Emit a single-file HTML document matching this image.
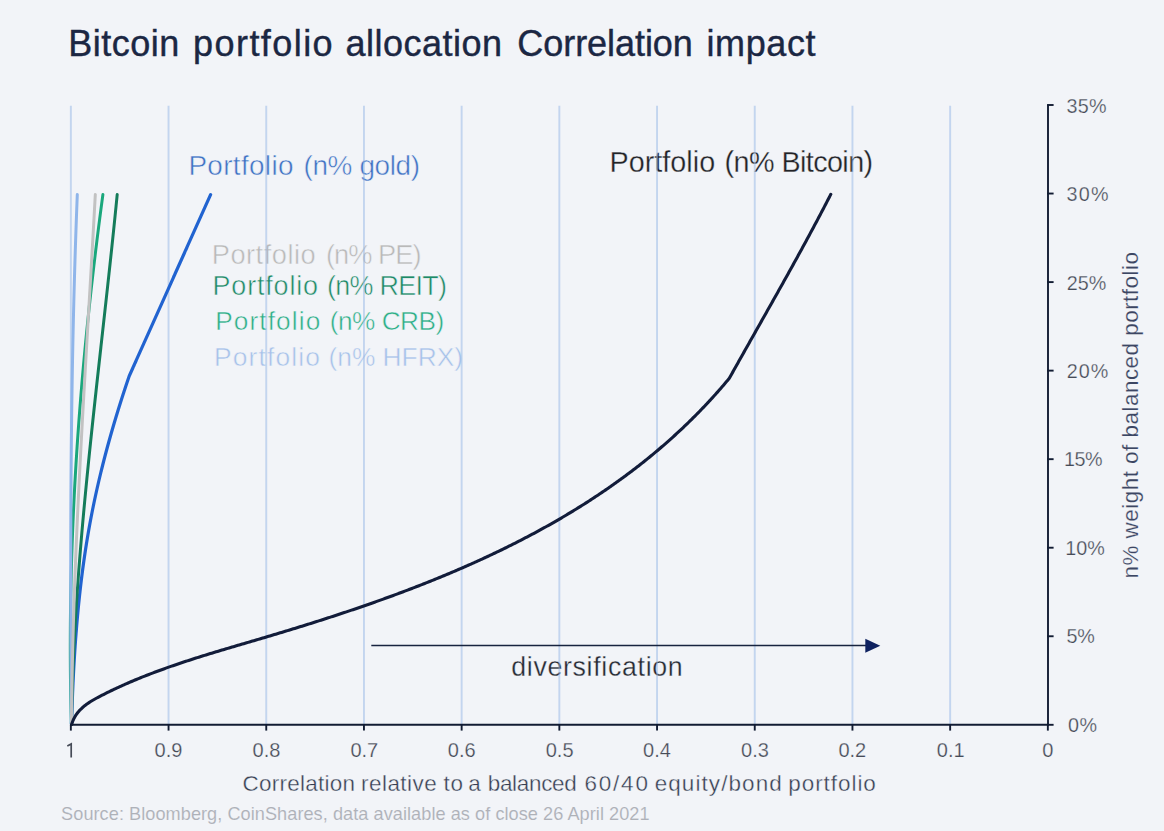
<!DOCTYPE html><html><head><meta charset="utf-8"><style>html,body{margin:0;padding:0;background:#f2f4f8;}svg{display:block;}text{font-family:"Liberation Sans",sans-serif;}</style></head><body>
<svg width="1164" height="831" viewBox="0 0 1164 831">
<rect width="1164" height="831" fill="#f2f4f8"/>
<text x="511.20" y="676.40" font-size="26.76" fill="#262a33" textLength="171.52" lengthAdjust="spacing" stroke="#f2f4f8" stroke-width="0.3">diversification</text>
<text x="61.10" y="820.40" font-size="18.14" fill="#aeb1b8" textLength="588.50" lengthAdjust="spacing" stroke="#f2f4f8" stroke-width="0.1">Source: Bloomberg, CoinShares, data available as of close 26 April 2021</text>
<text x="1068.00" y="731.80" font-size="19.76" fill="#464b57" textLength="29.00" lengthAdjust="spacing" stroke="#f2f4f8" stroke-width="0.25">0%</text>
<text x="1066.40" y="643.34" font-size="19.76" fill="#464b57" textLength="28.53" lengthAdjust="spacing" stroke="#f2f4f8" stroke-width="0.25">5%</text>
<text x="1065.30" y="554.88" font-size="19.76" fill="#464b57" textLength="39.54" lengthAdjust="spacing" stroke="#f2f4f8" stroke-width="0.25">10%</text>
<text x="1064.00" y="466.42" font-size="19.76" fill="#464b57" textLength="38.60" lengthAdjust="spacing" stroke="#f2f4f8" stroke-width="0.25">15%</text>
<text x="1066.80" y="377.96" font-size="19.76" fill="#464b57" textLength="41.51" lengthAdjust="spacing" stroke="#f2f4f8" stroke-width="0.25">20%</text>
<text x="1066.80" y="289.50" font-size="19.76" fill="#464b57" textLength="39.52" lengthAdjust="spacing" stroke="#f2f4f8" stroke-width="0.25">25%</text>
<text x="1066.50" y="201.04" font-size="19.76" fill="#464b57" textLength="42.05" lengthAdjust="spacing" stroke="#f2f4f8" stroke-width="0.25">30%</text>
<text x="1066.40" y="112.58" font-size="19.76" fill="#464b57" textLength="40.04" lengthAdjust="spacing" stroke="#f2f4f8" stroke-width="0.25">35%</text>
<text x="154.60" y="757.40" font-size="20.05" fill="#464b57" stroke="#f2f4f8" stroke-width="0.25">0.9</text>
<text x="252.50" y="757.40" font-size="20.05" fill="#464b57" stroke="#f2f4f8" stroke-width="0.25">0.8</text>
<text x="350.40" y="757.40" font-size="20.05" fill="#464b57" stroke="#f2f4f8" stroke-width="0.25">0.7</text>
<text x="447.80" y="757.40" font-size="20.05" fill="#464b57" stroke="#f2f4f8" stroke-width="0.25">0.6</text>
<text x="545.70" y="757.40" font-size="20.05" fill="#464b57" stroke="#f2f4f8" stroke-width="0.25">0.5</text>
<text x="643.10" y="757.40" font-size="20.05" fill="#464b57" stroke="#f2f4f8" stroke-width="0.25">0.4</text>
<text x="741.00" y="757.40" font-size="20.05" fill="#464b57" stroke="#f2f4f8" stroke-width="0.25">0.3</text>
<text x="838.40" y="757.40" font-size="20.05" fill="#464b57" stroke="#f2f4f8" stroke-width="0.25">0.2</text>
<text x="936.80" y="757.40" font-size="20.05" fill="#464b57" stroke="#f2f4f8" stroke-width="0.25">0.1</text>
<text x="1042.20" y="757.40" font-size="20.05" fill="#464b57" stroke="#f2f4f8" stroke-width="0.25">0</text>
<text x="1137.00" y="577.80" font-size="22.39" fill="#3c4663" textLength="326.50" lengthAdjust="spacing" stroke="#f2f4f8" stroke-width="0.2" transform="rotate(-90 1137.7 577.8)">n% weight of balanced portfolio</text>
<text x="68.30" y="56.40" font-size="36.00" fill="#1b2743" textLength="111.10" lengthAdjust="spacing" stroke="#1b2743" stroke-width="0.4">Bitcoin</text>
<text x="193.10" y="56.40" font-size="36.00" fill="#1b2743" textLength="139.54" lengthAdjust="spacing" stroke="#1b2743" stroke-width="0.4">portfolio</text>
<text x="345.60" y="56.40" font-size="36.00" fill="#1b2743" textLength="156.52" lengthAdjust="spacing" stroke="#1b2743" stroke-width="0.4">allocation</text>
<text x="517.30" y="56.40" font-size="36.00" fill="#1b2743" textLength="175.52" lengthAdjust="spacing" stroke="#1b2743" stroke-width="0.4">Correlation</text>
<text x="706.50" y="56.40" font-size="36.00" fill="#1b2743" textLength="109.02" lengthAdjust="spacing" stroke="#1b2743" stroke-width="0.4">impact</text>
<text x="242.50" y="791.10" font-size="22.47" fill="#363e52" textLength="112.52" lengthAdjust="spacing" stroke="#f2f4f8" stroke-width="0.35">Correlation</text>
<text x="361.10" y="791.10" font-size="22.47" fill="#363e52" textLength="75.53" lengthAdjust="spacing" stroke="#f2f4f8" stroke-width="0.35">relative</text>
<text x="443.40" y="791.10" font-size="22.47" fill="#363e52" textLength="19.52" lengthAdjust="spacing" stroke="#f2f4f8" stroke-width="0.35">to</text>
<text x="468.20" y="791.10" font-size="22.47" fill="#363e52" stroke="#f2f4f8" stroke-width="0.35">a</text>
<text x="487.70" y="791.10" font-size="22.47" fill="#363e52" textLength="89.03" lengthAdjust="spacing" stroke="#f2f4f8" stroke-width="0.35">balanced</text>
<text x="584.40" y="791.10" font-size="22.47" fill="#363e52" textLength="63.51" lengthAdjust="spacing" stroke="#f2f4f8" stroke-width="0.35">60/40</text>
<text x="654.70" y="791.10" font-size="22.47" fill="#363e52" textLength="127.01" lengthAdjust="spacing" stroke="#f2f4f8" stroke-width="0.35">equity/bond</text>
<text x="788.30" y="791.10" font-size="22.47" fill="#363e52" textLength="87.52" lengthAdjust="spacing" stroke="#f2f4f8" stroke-width="0.35">portfolio</text>
<text x="188.40" y="175.40" font-size="27.91" fill="#3f72c4" textLength="105.04" lengthAdjust="spacing" stroke="#f2f4f8" stroke-width="0.5">Portfolio</text>
<text x="303.50" y="175.40" font-size="27.91" fill="#3f72c4" textLength="116.53" lengthAdjust="spacing" stroke="#f2f4f8" stroke-width="0.5">(n% gold)</text>
<text x="609.60" y="172.00" font-size="28.75" fill="#222327" textLength="105.55" lengthAdjust="spacing" stroke="#f2f4f8" stroke-width="0.3">Portfolio</text>
<text x="724.60" y="172.00" font-size="28.75" fill="#222327" textLength="148.54" lengthAdjust="spacing" stroke="#f2f4f8" stroke-width="0.3">(n% Bitcoin)</text>
<text x="211.70" y="263.60" font-size="27.21" fill="#b9b9b9" textLength="104.03" lengthAdjust="spacing" stroke="#f2f4f8" stroke-width="0.5">Portfolio</text>
<text x="325.90" y="263.60" font-size="27.21" fill="#b9b9b9" textLength="95.54" lengthAdjust="spacing" stroke="#f2f4f8" stroke-width="0.5">(n% PE)</text>
<text x="212.50" y="295.20" font-size="26.93" fill="#1f8a67" textLength="105.53" lengthAdjust="spacing" stroke="#f2f4f8" stroke-width="0.5">Portfolio</text>
<text x="327.00" y="295.20" font-size="26.93" fill="#1f8a67" textLength="120.03" lengthAdjust="spacing" stroke="#f2f4f8" stroke-width="0.5">(n% REIT)</text>
<text x="215.20" y="330.10" font-size="26.23" fill="#2cae86" textLength="105.03" lengthAdjust="spacing" stroke="#f2f4f8" stroke-width="0.5">Portfolio</text>
<text x="329.70" y="330.10" font-size="26.23" fill="#2cae86" textLength="114.55" lengthAdjust="spacing" stroke="#f2f4f8" stroke-width="0.5">(n% CRB)</text>
<text x="213.90" y="366.00" font-size="26.37" fill="#a7c2ea" textLength="106.04" lengthAdjust="spacing" stroke="#f2f4f8" stroke-width="0.5">Portfolio</text>
<text x="328.50" y="366.00" font-size="26.37" fill="#a7c2ea" textLength="134.54" lengthAdjust="spacing" stroke="#f2f4f8" stroke-width="0.5">(n% HFRX)</text>
<line x1="70.85" y1="105.8" x2="70.85" y2="724" stroke="#94b6e6" stroke-opacity="0.5" stroke-width="1.9"/>
<line x1="168.55" y1="105.8" x2="168.55" y2="724" stroke="#94b6e6" stroke-opacity="0.5" stroke-width="1.9"/>
<line x1="266.25" y1="105.8" x2="266.25" y2="724" stroke="#94b6e6" stroke-opacity="0.5" stroke-width="1.9"/>
<line x1="363.95" y1="105.8" x2="363.95" y2="724" stroke="#94b6e6" stroke-opacity="0.5" stroke-width="1.9"/>
<line x1="461.65" y1="105.8" x2="461.65" y2="724" stroke="#94b6e6" stroke-opacity="0.5" stroke-width="1.9"/>
<line x1="559.35" y1="105.8" x2="559.35" y2="724" stroke="#94b6e6" stroke-opacity="0.5" stroke-width="1.9"/>
<line x1="657.05" y1="105.8" x2="657.05" y2="724" stroke="#94b6e6" stroke-opacity="0.5" stroke-width="1.9"/>
<line x1="754.75" y1="105.8" x2="754.75" y2="724" stroke="#94b6e6" stroke-opacity="0.5" stroke-width="1.9"/>
<line x1="852.45" y1="105.8" x2="852.45" y2="724" stroke="#94b6e6" stroke-opacity="0.5" stroke-width="1.9"/>
<line x1="950.15" y1="105.8" x2="950.15" y2="724" stroke="#94b6e6" stroke-opacity="0.5" stroke-width="1.9"/>
<path d="M71.50,724.00 L71.53,723.00 L71.56,722.00 L71.59,721.00 L71.62,720.00 L71.65,719.00 L71.68,718.00 L71.71,717.00 L71.74,716.00 L71.78,715.00 L71.81,714.00 L71.84,713.00 L71.87,712.00 L71.91,711.00 L71.94,710.00 L71.98,709.00 L72.01,708.00 L72.05,707.00 L72.08,706.00 L72.12,705.00 L72.15,704.00 L72.19,703.00 L72.23,702.00 L72.27,701.00 L72.30,700.00 L72.34,699.00 L72.38,698.00 L72.42,697.00 L72.46,696.00 L72.50,695.00 L72.54,694.00 L72.58,693.00 L72.62,692.00 L72.67,691.00 L72.71,690.00 L72.75,689.00 L72.80,688.00 L72.84,687.00 L72.89,686.00 L72.93,685.00 L72.98,684.00 L73.02,683.00 L73.07,682.00 L73.12,681.00 L73.16,680.00 L73.21,679.00 L73.26,678.00 L73.31,677.00 L73.36,676.00 L73.41,675.00 L73.46,674.00 L73.51,673.00 L73.57,672.00 L73.62,671.00 L73.67,670.00 L73.73,669.00 L73.78,668.00 L73.84,667.00 L73.89,666.00 L73.95,665.00 L74.00,664.00 L74.06,663.00 L74.12,662.00 L74.18,661.00 L74.24,660.00 L74.30,659.00 L74.36,658.00 L74.42,657.00 L74.48,656.00 L74.54,655.00 L74.61,654.00 L74.67,653.00 L74.73,652.00 L74.80,651.00 L74.86,650.00 L74.93,649.00 L75.00,648.00 L75.06,647.00 L75.13,646.00 L75.20,645.00 L75.27,644.00 L75.34,643.00 L75.41,642.00 L75.48,641.00 L75.56,640.00 L75.63,639.00 L75.70,638.00 L75.78,637.00 L75.85,636.00 L75.93,635.00 L76.01,634.00 L76.08,633.00 L76.16,632.00 L76.24,631.00 L76.32,630.00 L76.40,629.00 L76.48,628.00 L76.56,627.00 L76.64,626.00 L76.73,625.00 L76.81,624.00 L76.90,623.00 L76.98,622.00 L77.07,621.00 L77.16,620.00 L77.24,619.00 L77.33,618.00 L77.42,617.00 L77.51,616.00 L77.60,615.00 L77.70,614.00 L77.79,613.00 L77.88,612.00 L77.98,611.00 L78.07,610.00 L78.17,609.00 L78.26,608.00 L78.36,607.00 L78.46,606.00 L78.56,605.00 L78.66,604.00 L78.76,603.00 L78.86,602.00 L78.97,601.00 L79.07,600.00 L79.18,599.00 L79.28,598.00 L79.39,597.00 L79.49,596.00 L79.60,595.00 L79.71,594.00 L79.82,593.00 L79.93,592.00 L80.04,591.00 L80.16,590.00 L80.27,589.00 L80.38,588.00 L80.50,587.00 L80.62,586.00 L80.73,585.00 L80.85,584.00 L80.97,583.00 L81.09,582.00 L81.21,581.00 L81.33,580.00 L81.46,579.00 L81.58,578.00 L81.71,577.00 L81.83,576.00 L81.96,575.00 L82.09,574.00 L82.22,573.00 L82.35,572.00 L82.48,571.00 L82.61,570.00 L82.74,569.00 L82.88,568.00 L83.01,567.00 L83.15,566.00 L83.28,565.00 L83.42,564.00 L83.56,563.00 L83.70,562.00 L83.84,561.00 L83.98,560.00 L84.13,559.00 L84.27,558.00 L84.42,557.00 L84.56,556.00 L84.71,555.00 L84.86,554.00 L85.01,553.00 L85.16,552.00 L85.31,551.00 L85.46,550.00 L85.62,549.00 L85.77,548.00 L85.93,547.00 L86.09,546.00 L86.24,545.00 L86.40,544.00 L86.56,543.00 L86.73,542.00 L86.89,541.00 L87.05,540.00 L87.22,539.00 L87.38,538.00 L87.55,537.00 L87.72,536.00 L87.89,535.00 L88.06,534.00 L88.23,533.00 L88.40,532.00 L88.58,531.00 L88.75,530.00 L88.93,529.00 L89.11,528.00 L89.29,527.00 L89.47,526.00 L89.65,525.00 L89.83,524.00 L90.01,523.00 L90.20,522.00 L90.39,521.00 L90.57,520.00 L90.76,519.00 L90.95,518.00 L91.14,517.00 L91.34,516.00 L91.53,515.00 L91.72,514.00 L91.92,513.00 L92.12,512.00 L92.31,511.00 L92.51,510.00 L92.71,509.00 L92.92,508.00 L93.12,507.00 L93.32,506.00 L93.53,505.00 L93.74,504.00 L93.94,503.00 L94.15,502.00 L94.36,501.00 L94.57,500.00 L94.79,499.00 L95.00,498.00 L95.22,497.00 L95.43,496.00 L95.65,495.00 L95.87,494.00 L96.09,493.00 L96.31,492.00 L96.53,491.00 L96.75,490.00 L96.98,489.00 L97.20,488.00 L97.43,487.00 L97.66,486.00 L97.89,485.00 L98.12,484.00 L98.35,483.00 L98.58,482.00 L98.81,481.00 L99.05,480.00 L99.28,479.00 L99.52,478.00 L99.76,477.00 L100.00,476.00 L100.24,475.00 L100.48,474.00 L100.72,473.00 L100.96,472.00 L101.21,471.00 L101.45,470.00 L101.70,469.00 L101.95,468.00 L102.20,467.00 L102.45,466.00 L102.70,465.00 L102.95,464.00 L103.21,463.00 L103.46,462.00 L103.72,461.00 L103.97,460.00 L104.23,459.00 L104.49,458.00 L104.75,457.00 L105.01,456.00 L105.27,455.00 L105.54,454.00 L105.80,453.00 L106.07,452.00 L106.33,451.00 L106.60,450.00 L106.87,449.00 L107.14,448.00 L107.41,447.00 L107.68,446.00 L107.95,445.00 L108.23,444.00 L108.50,443.00 L108.78,442.00 L109.06,441.00 L109.34,440.00 L109.61,439.00 L109.90,438.00 L110.18,437.00 L110.46,436.00 L110.74,435.00 L111.03,434.00 L111.31,433.00 L111.60,432.00 L111.89,431.00 L112.18,430.00 L112.46,429.00 L112.76,428.00 L113.05,427.00 L113.34,426.00 L113.63,425.00 L113.93,424.00 L114.22,423.00 L114.52,422.00 L114.82,421.00 L115.12,420.00 L115.42,419.00 L115.72,418.00 L116.02,417.00 L116.32,416.00 L116.63,415.00 L116.93,414.00 L117.24,413.00 L117.54,412.00 L117.85,411.00 L118.16,410.00 L118.47,409.00 L118.78,408.00 L119.09,407.00 L119.40,406.00 L119.72,405.00 L120.03,404.00 L120.35,403.00 L120.67,402.00 L120.98,401.00 L121.30,400.00 L121.62,399.00 L121.94,398.00 L122.26,397.00 L122.58,396.00 L122.91,395.00 L123.23,394.00 L123.56,393.00 L123.88,392.00 L124.21,391.00 L124.54,390.00 L124.87,389.00 L125.20,388.00 L125.53,387.00 L125.86,386.00 L126.19,385.00 L126.53,384.00 L126.86,383.00 L127.20,382.00 L127.53,381.00 L127.87,380.00 L128.21,379.00 L128.55,378.00 L128.89,377.00 L129.23,376.00 L129.68,375.00 L130.13,374.00 L130.58,372.99 L131.03,371.99 L131.48,370.99 L131.93,369.99 L132.38,368.98 L132.83,367.98 L133.27,366.98 L133.72,365.98 L134.17,364.98 L134.62,363.97 L135.07,362.97 L135.52,361.97 L135.97,360.97 L136.42,359.96 L136.87,358.96 L137.32,357.96 L137.77,356.96 L138.22,355.96 L138.67,354.95 L139.12,353.95 L139.57,352.95 L140.02,351.95 L140.47,350.94 L140.92,349.94 L141.37,348.94 L141.82,347.94 L142.27,346.94 L142.72,345.93 L143.17,344.93 L143.61,343.93 L144.06,342.93 L144.51,341.92 L144.96,340.92 L145.41,339.92 L145.86,338.92 L146.31,337.92 L146.76,336.91 L147.21,335.91 L147.66,334.91 L148.11,333.91 L148.56,332.90 L149.01,331.90 L149.46,330.90 L149.91,329.90 L150.36,328.90 L150.81,327.89 L151.26,326.89 L151.71,325.89 L152.16,324.89 L152.61,323.89 L153.06,322.88 L153.51,321.88 L153.95,320.88 L154.40,319.88 L154.85,318.87 L155.30,317.87 L155.75,316.87 L156.20,315.87 L156.65,314.87 L157.10,313.86 L157.55,312.86 L158.00,311.86 L158.45,310.86 L158.90,309.85 L159.35,308.85 L159.80,307.85 L160.25,306.85 L160.70,305.85 L161.15,304.84 L161.60,303.84 L162.05,302.84 L162.50,301.84 L162.95,300.83 L163.40,299.83 L163.85,298.83 L164.29,297.83 L164.74,296.83 L165.19,295.82 L165.64,294.82 L166.09,293.82 L166.54,292.82 L166.99,291.81 L167.44,290.81 L167.89,289.81 L168.34,288.81 L168.79,287.81 L169.24,286.80 L169.69,285.80 L170.14,284.80 L170.59,283.80 L171.04,282.79 L171.49,281.79 L171.94,280.79 L172.39,279.79 L172.84,278.79 L173.29,277.78 L173.74,276.78 L174.19,275.78 L174.63,274.78 L175.08,273.77 L175.53,272.77 L175.98,271.77 L176.43,270.77 L176.88,269.77 L177.33,268.76 L177.78,267.76 L178.23,266.76 L178.68,265.76 L179.13,264.75 L179.58,263.75 L180.03,262.75 L180.48,261.75 L180.93,260.75 L181.38,259.74 L181.83,258.74 L182.28,257.74 L182.73,256.74 L183.18,255.73 L183.63,254.73 L184.08,253.73 L184.53,252.73 L184.97,251.73 L185.42,250.72 L185.87,249.72 L186.32,248.72 L186.77,247.72 L187.22,246.71 L187.67,245.71 L188.12,244.71 L188.57,243.71 L189.02,242.71 L189.47,241.70 L189.92,240.70 L190.37,239.70 L190.82,238.70 L191.27,237.70 L191.72,236.69 L192.17,235.69 L192.62,234.69 L193.07,233.69 L193.52,232.68 L193.97,231.68 L194.42,230.68 L194.87,229.68 L195.31,228.68 L195.76,227.67 L196.21,226.67 L196.66,225.67 L197.11,224.67 L197.56,223.66 L198.01,222.66 L198.46,221.66 L198.91,220.66 L199.36,219.66 L199.81,218.65 L200.26,217.65 L200.71,216.65 L201.16,215.65 L201.61,214.64 L202.06,213.64 L202.51,212.64 L202.96,211.64 L203.41,210.64 L203.86,209.63 L204.31,208.63 L204.76,207.63 L205.21,206.63 L205.65,205.62 L206.10,204.62 L206.55,203.62 L207.00,202.62 L207.45,201.62 L207.90,200.61 L208.35,199.61 L208.80,198.61 L209.25,197.61 L209.70,196.60 L210.15,195.60 L210.60,194.60" fill="none" stroke="#2163d0" stroke-width="3.2" stroke-linejoin="round" stroke-linecap="round"/>
<path d="M71.50,724.00 L71.51,723.00 L71.53,722.00 L71.54,721.00 L71.56,720.00 L71.58,719.00 L71.59,718.00 L71.61,716.99 L71.63,715.99 L71.64,714.99 L71.66,713.99 L71.68,712.99 L71.70,711.99 L71.72,710.99 L71.74,709.99 L71.76,708.99 L71.78,707.99 L71.81,706.99 L71.83,705.99 L71.85,704.99 L71.88,703.98 L71.90,702.98 L71.92,701.98 L71.95,700.98 L71.97,699.98 L72.00,698.98 L72.03,697.98 L72.05,696.98 L72.08,695.98 L72.11,694.98 L72.14,693.98 L72.16,692.98 L72.19,691.98 L72.22,690.98 L72.25,689.97 L72.28,688.97 L72.31,687.97 L72.35,686.97 L72.38,685.97 L72.41,684.97 L72.44,683.97 L72.48,682.97 L72.51,681.97 L72.54,680.97 L72.58,679.97 L72.61,678.97 L72.65,677.97 L72.68,676.96 L72.72,675.96 L72.76,674.96 L72.80,673.96 L72.83,672.96 L72.87,671.96 L72.91,670.96 L72.95,669.96 L72.99,668.96 L73.03,667.96 L73.07,666.96 L73.11,665.96 L73.15,664.96 L73.19,663.95 L73.23,662.95 L73.28,661.95 L73.32,660.95 L73.36,659.95 L73.41,658.95 L73.45,657.95 L73.49,656.95 L73.54,655.95 L73.58,654.95 L73.63,653.95 L73.68,652.95 L73.72,651.95 L73.77,650.94 L73.82,649.94 L73.87,648.94 L73.91,647.94 L73.96,646.94 L74.01,645.94 L74.06,644.94 L74.11,643.94 L74.16,642.94 L74.21,641.94 L74.26,640.94 L74.31,639.94 L74.37,638.94 L74.42,637.93 L74.47,636.93 L74.52,635.93 L74.58,634.93 L74.63,633.93 L74.69,632.93 L74.74,631.93 L74.80,630.93 L74.85,629.93 L74.91,628.93 L74.96,627.93 L75.02,626.93 L75.08,625.93 L75.13,624.93 L75.19,623.92 L75.25,622.92 L75.31,621.92 L75.37,620.92 L75.43,619.92 L75.49,618.92 L75.55,617.92 L75.61,616.92 L75.67,615.92 L75.73,614.92 L75.79,613.92 L75.85,612.92 L75.91,611.92 L75.98,610.91 L76.04,609.91 L76.10,608.91 L76.16,607.91 L76.23,606.91 L76.29,605.91 L76.36,604.91 L76.42,603.91 L76.49,602.91 L76.55,601.91 L76.62,600.91 L76.69,599.91 L76.75,598.91 L76.82,597.90 L76.89,596.90 L76.95,595.90 L77.02,594.90 L77.09,593.90 L77.16,592.90 L77.23,591.90 L77.30,590.90 L77.37,589.90 L77.44,588.90 L77.51,587.90 L77.58,586.90 L77.65,585.90 L77.72,584.89 L77.79,583.89 L77.86,582.89 L77.94,581.89 L78.01,580.89 L78.08,579.89 L78.15,578.89 L78.23,577.89 L78.30,576.89 L78.38,575.89 L78.45,574.89 L78.53,573.89 L78.60,572.89 L78.68,571.89 L78.75,570.88 L78.83,569.88 L78.90,568.88 L78.98,567.88 L79.06,566.88 L79.14,565.88 L79.21,564.88 L79.29,563.88 L79.37,562.88 L79.45,561.88 L79.53,560.88 L79.60,559.88 L79.68,558.88 L79.76,557.87 L79.84,556.87 L79.92,555.87 L80.00,554.87 L80.08,553.87 L80.17,552.87 L80.25,551.87 L80.33,550.87 L80.41,549.87 L80.49,548.87 L80.58,547.87 L80.66,546.87 L80.74,545.87 L80.82,544.86 L80.91,543.86 L80.99,542.86 L81.08,541.86 L81.16,540.86 L81.24,539.86 L81.33,538.86 L81.41,537.86 L81.50,536.86 L81.59,535.86 L81.67,534.86 L81.76,533.86 L81.84,532.86 L81.93,531.85 L82.02,530.85 L82.10,529.85 L82.19,528.85 L82.28,527.85 L82.37,526.85 L82.46,525.85 L82.54,524.85 L82.63,523.85 L82.72,522.85 L82.81,521.85 L82.90,520.85 L82.99,519.85 L83.08,518.84 L83.17,517.84 L83.26,516.84 L83.35,515.84 L83.44,514.84 L83.53,513.84 L83.62,512.84 L83.71,511.84 L83.81,510.84 L83.90,509.84 L83.99,508.84 L84.08,507.84 L84.18,506.84 L84.27,505.84 L84.36,504.83 L84.45,503.83 L84.55,502.83 L84.64,501.83 L84.74,500.83 L84.83,499.83 L84.92,498.83 L85.02,497.83 L85.11,496.83 L85.21,495.83 L85.30,494.83 L85.40,493.83 L85.49,492.83 L85.59,491.82 L85.69,490.82 L85.78,489.82 L85.88,488.82 L85.98,487.82 L86.07,486.82 L86.17,485.82 L86.27,484.82 L86.36,483.82 L86.46,482.82 L86.56,481.82 L86.66,480.82 L86.76,479.82 L86.85,478.81 L86.95,477.81 L87.05,476.81 L87.15,475.81 L87.25,474.81 L87.35,473.81 L87.45,472.81 L87.55,471.81 L87.65,470.81 L87.75,469.81 L87.85,468.81 L87.95,467.81 L88.05,466.81 L88.15,465.80 L88.25,464.80 L88.35,463.80 L88.45,462.80 L88.55,461.80 L88.65,460.80 L88.75,459.80 L88.86,458.80 L88.96,457.80 L89.06,456.80 L89.16,455.80 L89.26,454.80 L89.37,453.80 L89.47,452.80 L89.57,451.79 L89.68,450.79 L89.78,449.79 L89.88,448.79 L89.99,447.79 L90.09,446.79 L90.19,445.79 L90.30,444.79 L90.40,443.79 L90.50,442.79 L90.61,441.79 L90.71,440.79 L90.82,439.79 L90.92,438.78 L91.03,437.78 L91.13,436.78 L91.24,435.78 L91.34,434.78 L91.45,433.78 L91.55,432.78 L91.66,431.78 L91.76,430.78 L91.87,429.78 L91.98,428.78 L92.08,427.78 L92.19,426.78 L92.29,425.77 L92.40,424.77 L92.51,423.77 L92.61,422.77 L92.72,421.77 L92.83,420.77 L92.93,419.77 L93.04,418.77 L93.15,417.77 L93.26,416.77 L93.36,415.77 L93.47,414.77 L93.58,413.77 L93.69,412.76 L93.79,411.76 L93.90,410.76 L94.01,409.76 L94.12,408.76 L94.22,407.76 L94.33,406.76 L94.44,405.76 L94.55,404.76 L94.66,403.76 L94.77,402.76 L94.88,401.76 L94.98,400.76 L95.09,399.76 L95.20,398.75 L95.31,397.75 L95.42,396.75 L95.53,395.75 L95.64,394.75 L95.75,393.75 L95.86,392.75 L95.97,391.75 L96.08,390.75 L96.18,389.75 L96.29,388.75 L96.40,387.75 L96.51,386.75 L96.62,385.74 L96.73,384.74 L96.84,383.74 L96.95,382.74 L97.06,381.74 L97.17,380.74 L97.28,379.74 L97.39,378.74 L97.50,377.74 L97.61,376.74 L97.72,375.74 L97.84,374.74 L97.95,373.74 L98.06,372.73 L98.17,371.73 L98.28,370.73 L98.39,369.73 L98.50,368.73 L98.61,367.73 L98.72,366.73 L98.83,365.73 L98.94,364.73 L99.05,363.73 L99.16,362.73 L99.27,361.73 L99.38,360.73 L99.50,359.72 L99.61,358.72 L99.72,357.72 L99.83,356.72 L99.94,355.72 L100.05,354.72 L100.16,353.72 L100.27,352.72 L100.38,351.72 L100.50,350.72 L100.61,349.72 L100.72,348.72 L100.83,347.72 L100.94,346.71 L101.05,345.71 L101.16,344.71 L101.27,343.71 L101.39,342.71 L101.50,341.71 L101.61,340.71 L101.72,339.71 L101.83,338.71 L101.94,337.71 L102.05,336.71 L102.16,335.71 L102.28,334.71 L102.39,333.71 L102.50,332.70 L102.61,331.70 L102.72,330.70 L102.83,329.70 L102.94,328.70 L103.05,327.70 L103.17,326.70 L103.28,325.70 L103.39,324.70 L103.50,323.70 L103.61,322.70 L103.72,321.70 L103.83,320.70 L103.94,319.69 L104.05,318.69 L104.17,317.69 L104.28,316.69 L104.39,315.69 L104.50,314.69 L104.61,313.69 L104.72,312.69 L104.83,311.69 L104.94,310.69 L105.05,309.69 L105.16,308.69 L105.27,307.69 L105.38,306.68 L105.50,305.68 L105.61,304.68 L105.72,303.68 L105.83,302.68 L105.94,301.68 L106.05,300.68 L106.16,299.68 L106.27,298.68 L106.38,297.68 L106.49,296.68 L106.60,295.68 L106.71,294.68 L106.82,293.67 L106.93,292.67 L107.04,291.67 L107.15,290.67 L107.26,289.67 L107.37,288.67 L107.48,287.67 L107.59,286.67 L107.70,285.67 L107.81,284.67 L107.91,283.67 L108.02,282.67 L108.13,281.67 L108.24,280.67 L108.35,279.66 L108.46,278.66 L108.57,277.66 L108.68,276.66 L108.79,275.66 L108.90,274.66 L109.00,273.66 L109.11,272.66 L109.22,271.66 L109.33,270.66 L109.44,269.66 L109.54,268.66 L109.65,267.66 L109.76,266.65 L109.87,265.65 L109.98,264.65 L110.08,263.65 L110.19,262.65 L110.30,261.65 L110.41,260.65 L110.51,259.65 L110.62,258.65 L110.73,257.65 L110.83,256.65 L110.94,255.65 L111.05,254.65 L111.15,253.64 L111.26,252.64 L111.37,251.64 L111.47,250.64 L111.58,249.64 L111.69,248.64 L111.79,247.64 L111.90,246.64 L112.00,245.64 L112.11,244.64 L112.21,243.64 L112.32,242.64 L112.42,241.64 L112.53,240.63 L112.63,239.63 L112.74,238.63 L112.84,237.63 L112.95,236.63 L113.05,235.63 L113.16,234.63 L113.26,233.63 L113.37,232.63 L113.47,231.63 L113.57,230.63 L113.68,229.63 L113.78,228.63 L113.88,227.62 L113.99,226.62 L114.09,225.62 L114.19,224.62 L114.29,223.62 L114.40,222.62 L114.50,221.62 L114.60,220.62 L114.70,219.62 L114.81,218.62 L114.91,217.62 L115.01,216.62 L115.11,215.62 L115.21,214.62 L115.31,213.61 L115.41,212.61 L115.51,211.61 L115.61,210.61 L115.71,209.61 L115.82,208.61 L115.92,207.61 L116.02,206.61 L116.11,205.61 L116.21,204.61 L116.31,203.61 L116.41,202.61 L116.51,201.61 L116.61,200.60 L116.71,199.60 L116.81,198.60 L116.91,197.60 L117.00,196.60 L117.10,195.60 L117.20,194.60" fill="none" stroke="#147c5a" stroke-width="3" stroke-linejoin="round" stroke-linecap="round"/>
<path d="M71.40,724.00 L71.37,723.00 L71.34,722.00 L71.32,721.00 L71.29,720.00 L71.26,719.00 L71.24,718.00 L71.21,716.99 L71.18,715.99 L71.16,714.99 L71.13,713.99 L71.11,712.99 L71.08,711.99 L71.06,710.99 L71.04,709.99 L71.01,708.99 L70.99,707.99 L70.97,706.99 L70.95,705.99 L70.93,704.99 L70.90,703.98 L70.88,702.98 L70.86,701.98 L70.84,700.98 L70.82,699.98 L70.80,698.98 L70.78,697.98 L70.77,696.98 L70.75,695.98 L70.73,694.98 L70.71,693.98 L70.70,692.98 L70.68,691.98 L70.66,690.98 L70.65,689.97 L70.63,688.97 L70.62,687.97 L70.60,686.97 L70.59,685.97 L70.57,684.97 L70.56,683.97 L70.54,682.97 L70.53,681.97 L70.52,680.97 L70.51,679.97 L70.49,678.97 L70.48,677.97 L70.47,676.96 L70.46,675.96 L70.45,674.96 L70.44,673.96 L70.43,672.96 L70.42,671.96 L70.41,670.96 L70.40,669.96 L70.39,668.96 L70.39,667.96 L70.38,666.96 L70.37,665.96 L70.37,664.96 L70.36,663.95 L70.35,662.95 L70.35,661.95 L70.34,660.95 L70.34,659.95 L70.33,658.95 L70.33,657.95 L70.32,656.95 L70.32,655.95 L70.32,654.95 L70.31,653.95 L70.31,652.95 L70.31,651.95 L70.31,650.94 L70.31,649.94 L70.30,648.94 L70.30,647.94 L70.30,646.94 L70.30,645.94 L70.30,644.94 L70.30,643.94 L70.31,642.94 L70.31,641.94 L70.31,640.94 L70.31,639.94 L70.31,638.94 L70.32,637.93 L70.32,636.93 L70.32,635.93 L70.33,634.93 L70.33,633.93 L70.34,632.93 L70.34,631.93 L70.35,630.93 L70.35,629.93 L70.36,628.93 L70.36,627.93 L70.37,626.93 L70.38,625.93 L70.39,624.93 L70.39,623.92 L70.40,622.92 L70.41,621.92 L70.42,620.92 L70.43,619.92 L70.44,618.92 L70.45,617.92 L70.46,616.92 L70.47,615.92 L70.48,614.92 L70.49,613.92 L70.50,612.92 L70.52,611.92 L70.53,610.91 L70.54,609.91 L70.55,608.91 L70.57,607.91 L70.58,606.91 L70.59,605.91 L70.61,604.91 L70.62,603.91 L70.64,602.91 L70.65,601.91 L70.67,600.91 L70.69,599.91 L70.70,598.91 L70.72,597.90 L70.74,596.90 L70.76,595.90 L70.77,594.90 L70.79,593.90 L70.81,592.90 L70.83,591.90 L70.85,590.90 L70.87,589.90 L70.89,588.90 L70.91,587.90 L70.93,586.90 L70.95,585.90 L70.97,584.89 L70.99,583.89 L71.02,582.89 L71.04,581.89 L71.06,580.89 L71.08,579.89 L71.11,578.89 L71.13,577.89 L71.16,576.89 L71.18,575.89 L71.20,574.89 L71.23,573.89 L71.26,572.89 L71.28,571.89 L71.31,570.88 L71.33,569.88 L71.36,568.88 L71.39,567.88 L71.42,566.88 L71.44,565.88 L71.47,564.88 L71.50,563.88 L71.53,562.88 L71.56,561.88 L71.59,560.88 L71.62,559.88 L71.65,558.88 L71.68,557.87 L71.71,556.87 L71.74,555.87 L71.77,554.87 L71.80,553.87 L71.84,552.87 L71.87,551.87 L71.90,550.87 L71.93,549.87 L71.97,548.87 L72.00,547.87 L72.04,546.87 L72.07,545.87 L72.11,544.86 L72.14,543.86 L72.18,542.86 L72.21,541.86 L72.25,540.86 L72.29,539.86 L72.32,538.86 L72.36,537.86 L72.40,536.86 L72.43,535.86 L72.47,534.86 L72.51,533.86 L72.55,532.86 L72.59,531.85 L72.63,530.85 L72.67,529.85 L72.71,528.85 L72.75,527.85 L72.79,526.85 L72.83,525.85 L72.87,524.85 L72.91,523.85 L72.96,522.85 L73.00,521.85 L73.04,520.85 L73.09,519.85 L73.13,518.84 L73.17,517.84 L73.22,516.84 L73.26,515.84 L73.31,514.84 L73.35,513.84 L73.40,512.84 L73.44,511.84 L73.49,510.84 L73.53,509.84 L73.58,508.84 L73.63,507.84 L73.68,506.84 L73.72,505.84 L73.77,504.83 L73.82,503.83 L73.87,502.83 L73.92,501.83 L73.97,500.83 L74.02,499.83 L74.07,498.83 L74.12,497.83 L74.17,496.83 L74.22,495.83 L74.27,494.83 L74.32,493.83 L74.37,492.83 L74.42,491.82 L74.48,490.82 L74.53,489.82 L74.58,488.82 L74.64,487.82 L74.69,486.82 L74.74,485.82 L74.80,484.82 L74.85,483.82 L74.91,482.82 L74.96,481.82 L75.02,480.82 L75.08,479.82 L75.13,478.81 L75.19,477.81 L75.25,476.81 L75.30,475.81 L75.36,474.81 L75.42,473.81 L75.48,472.81 L75.53,471.81 L75.59,470.81 L75.65,469.81 L75.71,468.81 L75.77,467.81 L75.83,466.81 L75.89,465.80 L75.95,464.80 L76.01,463.80 L76.07,462.80 L76.14,461.80 L76.20,460.80 L76.26,459.80 L76.32,458.80 L76.39,457.80 L76.45,456.80 L76.51,455.80 L76.58,454.80 L76.64,453.80 L76.70,452.80 L76.77,451.79 L76.83,450.79 L76.90,449.79 L76.97,448.79 L77.03,447.79 L77.10,446.79 L77.16,445.79 L77.23,444.79 L77.30,443.79 L77.37,442.79 L77.43,441.79 L77.50,440.79 L77.57,439.79 L77.64,438.78 L77.71,437.78 L77.78,436.78 L77.85,435.78 L77.92,434.78 L77.99,433.78 L78.06,432.78 L78.13,431.78 L78.20,430.78 L78.27,429.78 L78.34,428.78 L78.41,427.78 L78.49,426.78 L78.56,425.77 L78.63,424.77 L78.71,423.77 L78.78,422.77 L78.85,421.77 L78.93,420.77 L79.00,419.77 L79.08,418.77 L79.15,417.77 L79.23,416.77 L79.30,415.77 L79.38,414.77 L79.45,413.77 L79.53,412.76 L79.61,411.76 L79.69,410.76 L79.76,409.76 L79.84,408.76 L79.92,407.76 L80.00,406.76 L80.08,405.76 L80.15,404.76 L80.23,403.76 L80.31,402.76 L80.39,401.76 L80.47,400.76 L80.55,399.76 L80.63,398.75 L80.72,397.75 L80.80,396.75 L80.88,395.75 L80.96,394.75 L81.04,393.75 L81.12,392.75 L81.21,391.75 L81.29,390.75 L81.37,389.75 L81.46,388.75 L81.54,387.75 L81.63,386.75 L81.71,385.74 L81.80,384.74 L81.88,383.74 L81.97,382.74 L82.05,381.74 L82.14,380.74 L82.22,379.74 L82.31,378.74 L82.40,377.74 L82.48,376.74 L82.57,375.74 L82.66,374.74 L82.75,373.74 L82.84,372.73 L82.92,371.73 L83.01,370.73 L83.10,369.73 L83.19,368.73 L83.28,367.73 L83.37,366.73 L83.46,365.73 L83.55,364.73 L83.64,363.73 L83.73,362.73 L83.83,361.73 L83.92,360.73 L84.01,359.72 L84.10,358.72 L84.19,357.72 L84.29,356.72 L84.38,355.72 L84.47,354.72 L84.57,353.72 L84.66,352.72 L84.76,351.72 L84.85,350.72 L84.95,349.72 L85.04,348.72 L85.14,347.72 L85.23,346.71 L85.33,345.71 L85.42,344.71 L85.52,343.71 L85.62,342.71 L85.71,341.71 L85.81,340.71 L85.91,339.71 L86.01,338.71 L86.11,337.71 L86.20,336.71 L86.30,335.71 L86.40,334.71 L86.50,333.71 L86.60,332.70 L86.70,331.70 L86.80,330.70 L86.90,329.70 L87.00,328.70 L87.10,327.70 L87.20,326.70 L87.31,325.70 L87.41,324.70 L87.51,323.70 L87.61,322.70 L87.71,321.70 L87.82,320.70 L87.92,319.69 L88.02,318.69 L88.13,317.69 L88.23,316.69 L88.34,315.69 L88.44,314.69 L88.55,313.69 L88.65,312.69 L88.76,311.69 L88.86,310.69 L88.97,309.69 L89.07,308.69 L89.18,307.69 L89.29,306.68 L89.39,305.68 L89.50,304.68 L89.61,303.68 L89.72,302.68 L89.83,301.68 L89.93,300.68 L90.04,299.68 L90.15,298.68 L90.26,297.68 L90.37,296.68 L90.48,295.68 L90.59,294.68 L90.70,293.67 L90.81,292.67 L90.92,291.67 L91.03,290.67 L91.14,289.67 L91.26,288.67 L91.37,287.67 L91.48,286.67 L91.59,285.67 L91.70,284.67 L91.82,283.67 L91.93,282.67 L92.04,281.67 L92.16,280.67 L92.27,279.66 L92.39,278.66 L92.50,277.66 L92.62,276.66 L92.73,275.66 L92.85,274.66 L92.96,273.66 L93.08,272.66 L93.19,271.66 L93.31,270.66 L93.43,269.66 L93.54,268.66 L93.66,267.66 L93.78,266.65 L93.89,265.65 L94.01,264.65 L94.13,263.65 L94.25,262.65 L94.37,261.65 L94.49,260.65 L94.61,259.65 L94.73,258.65 L94.85,257.65 L94.97,256.65 L95.09,255.65 L95.21,254.65 L95.33,253.64 L95.45,252.64 L95.57,251.64 L95.69,250.64 L95.81,249.64 L95.93,248.64 L96.06,247.64 L96.18,246.64 L96.30,245.64 L96.43,244.64 L96.55,243.64 L96.67,242.64 L96.80,241.64 L96.92,240.63 L97.04,239.63 L97.17,238.63 L97.29,237.63 L97.42,236.63 L97.54,235.63 L97.67,234.63 L97.80,233.63 L97.92,232.63 L98.05,231.63 L98.18,230.63 L98.30,229.63 L98.43,228.63 L98.56,227.62 L98.68,226.62 L98.81,225.62 L98.94,224.62 L99.07,223.62 L99.20,222.62 L99.33,221.62 L99.46,220.62 L99.59,219.62 L99.71,218.62 L99.84,217.62 L99.97,216.62 L100.11,215.62 L100.24,214.62 L100.37,213.61 L100.50,212.61 L100.63,211.61 L100.76,210.61 L100.89,209.61 L101.02,208.61 L101.16,207.61 L101.29,206.61 L101.42,205.61 L101.56,204.61 L101.69,203.61 L101.82,202.61 L101.96,201.61 L102.09,200.60 L102.22,199.60 L102.36,198.60 L102.49,197.60 L102.63,196.60 L102.76,195.60 L102.90,194.60" fill="none" stroke="#1aa77c" stroke-width="3" stroke-linejoin="round" stroke-linecap="round"/>
<path d="M71.30,724.00 L71.29,723.00 L71.29,722.00 L71.28,721.00 L71.27,720.00 L71.27,719.00 L71.26,718.00 L71.25,716.99 L71.25,715.99 L71.24,714.99 L71.23,713.99 L71.23,712.99 L71.22,711.99 L71.22,710.99 L71.21,709.99 L71.20,708.99 L71.20,707.99 L71.19,706.99 L71.18,705.99 L71.18,704.99 L71.17,703.98 L71.17,702.98 L71.16,701.98 L71.15,700.98 L71.15,699.98 L71.14,698.98 L71.14,697.98 L71.13,696.98 L71.13,695.98 L71.12,694.98 L71.11,693.98 L71.11,692.98 L71.10,691.98 L71.10,690.98 L71.09,689.97 L71.09,688.97 L71.08,687.97 L71.07,686.97 L71.07,685.97 L71.06,684.97 L71.06,683.97 L71.05,682.97 L71.05,681.97 L71.04,680.97 L71.04,679.97 L71.03,678.97 L71.03,677.97 L71.02,676.96 L71.02,675.96 L71.01,674.96 L71.01,673.96 L71.00,672.96 L71.00,671.96 L70.99,670.96 L70.99,669.96 L70.98,668.96 L70.98,667.96 L70.97,666.96 L70.97,665.96 L70.96,664.96 L70.96,663.95 L70.95,662.95 L70.95,661.95 L70.94,660.95 L70.94,659.95 L70.94,658.95 L70.93,657.95 L70.93,656.95 L70.92,655.95 L70.92,654.95 L70.91,653.95 L70.91,652.95 L70.91,651.95 L70.90,650.94 L70.90,649.94 L70.89,648.94 L70.89,647.94 L70.89,646.94 L70.88,645.94 L70.88,644.94 L70.87,643.94 L70.87,642.94 L70.87,641.94 L70.86,640.94 L70.86,639.94 L70.86,638.94 L70.85,637.93 L70.85,636.93 L70.85,635.93 L70.84,634.93 L70.84,633.93 L70.84,632.93 L70.83,631.93 L70.83,630.93 L70.83,629.93 L70.82,628.93 L70.82,627.93 L70.82,626.93 L70.81,625.93 L70.81,624.93 L70.81,623.92 L70.81,622.92 L70.80,621.92 L70.80,620.92 L70.80,619.92 L70.80,618.92 L70.79,617.92 L70.79,616.92 L70.79,615.92 L70.79,614.92 L70.78,613.92 L70.78,612.92 L70.78,611.92 L70.78,610.91 L70.78,609.91 L70.77,608.91 L70.77,607.91 L70.77,606.91 L70.77,605.91 L70.77,604.91 L70.76,603.91 L70.76,602.91 L70.76,601.91 L70.76,600.91 L70.76,599.91 L70.76,598.91 L70.76,597.90 L70.75,596.90 L70.75,595.90 L70.75,594.90 L70.75,593.90 L70.75,592.90 L70.75,591.90 L70.75,590.90 L70.75,589.90 L70.75,588.90 L70.74,587.90 L70.74,586.90 L70.74,585.90 L70.74,584.89 L70.74,583.89 L70.74,582.89 L70.74,581.89 L70.74,580.89 L70.74,579.89 L70.74,578.89 L70.74,577.89 L70.74,576.89 L70.74,575.89 L70.74,574.89 L70.74,573.89 L70.74,572.89 L70.74,571.89 L70.74,570.88 L70.74,569.88 L70.74,568.88 L70.74,567.88 L70.74,566.88 L70.74,565.88 L70.74,564.88 L70.74,563.88 L70.74,562.88 L70.74,561.88 L70.74,560.88 L70.75,559.88 L70.75,558.88 L70.75,557.87 L70.75,556.87 L70.75,555.87 L70.75,554.87 L70.75,553.87 L70.75,552.87 L70.76,551.87 L70.76,550.87 L70.76,549.87 L70.76,548.87 L70.76,547.87 L70.76,546.87 L70.77,545.87 L70.77,544.86 L70.77,543.86 L70.77,542.86 L70.77,541.86 L70.78,540.86 L70.78,539.86 L70.78,538.86 L70.78,537.86 L70.78,536.86 L70.79,535.86 L70.79,534.86 L70.79,533.86 L70.80,532.86 L70.80,531.85 L70.80,530.85 L70.80,529.85 L70.81,528.85 L70.81,527.85 L70.81,526.85 L70.82,525.85 L70.82,524.85 L70.82,523.85 L70.83,522.85 L70.83,521.85 L70.83,520.85 L70.84,519.85 L70.84,518.84 L70.85,517.84 L70.85,516.84 L70.85,515.84 L70.86,514.84 L70.86,513.84 L70.87,512.84 L70.87,511.84 L70.87,510.84 L70.88,509.84 L70.88,508.84 L70.89,507.84 L70.89,506.84 L70.90,505.84 L70.90,504.83 L70.91,503.83 L70.91,502.83 L70.92,501.83 L70.92,500.83 L70.93,499.83 L70.93,498.83 L70.94,497.83 L70.94,496.83 L70.95,495.83 L70.95,494.83 L70.96,493.83 L70.97,492.83 L70.97,491.82 L70.98,490.82 L70.98,489.82 L70.99,488.82 L71.00,487.82 L71.00,486.82 L71.01,485.82 L71.02,484.82 L71.02,483.82 L71.03,482.82 L71.04,481.82 L71.04,480.82 L71.05,479.82 L71.06,478.81 L71.06,477.81 L71.07,476.81 L71.08,475.81 L71.08,474.81 L71.09,473.81 L71.10,472.81 L71.11,471.81 L71.11,470.81 L71.12,469.81 L71.13,468.81 L71.14,467.81 L71.15,466.81 L71.15,465.80 L71.16,464.80 L71.17,463.80 L71.18,462.80 L71.19,461.80 L71.20,460.80 L71.20,459.80 L71.21,458.80 L71.22,457.80 L71.23,456.80 L71.24,455.80 L71.25,454.80 L71.26,453.80 L71.27,452.80 L71.28,451.79 L71.28,450.79 L71.29,449.79 L71.30,448.79 L71.31,447.79 L71.32,446.79 L71.33,445.79 L71.34,444.79 L71.35,443.79 L71.36,442.79 L71.37,441.79 L71.38,440.79 L71.39,439.79 L71.40,438.78 L71.41,437.78 L71.43,436.78 L71.44,435.78 L71.45,434.78 L71.46,433.78 L71.47,432.78 L71.48,431.78 L71.49,430.78 L71.50,429.78 L71.51,428.78 L71.53,427.78 L71.54,426.78 L71.55,425.77 L71.56,424.77 L71.57,423.77 L71.58,422.77 L71.60,421.77 L71.61,420.77 L71.62,419.77 L71.63,418.77 L71.65,417.77 L71.66,416.77 L71.67,415.77 L71.68,414.77 L71.70,413.77 L71.71,412.76 L71.72,411.76 L71.74,410.76 L71.75,409.76 L71.76,408.76 L71.78,407.76 L71.79,406.76 L71.80,405.76 L71.82,404.76 L71.83,403.76 L71.85,402.76 L71.86,401.76 L71.87,400.76 L71.89,399.76 L71.90,398.75 L71.92,397.75 L71.93,396.75 L71.95,395.75 L71.96,394.75 L71.98,393.75 L71.99,392.75 L72.01,391.75 L72.02,390.75 L72.04,389.75 L72.05,388.75 L72.07,387.75 L72.08,386.75 L72.10,385.74 L72.11,384.74 L72.13,383.74 L72.15,382.74 L72.16,381.74 L72.18,380.74 L72.19,379.74 L72.21,378.74 L72.23,377.74 L72.24,376.74 L72.26,375.74 L72.28,374.74 L72.30,373.74 L72.31,372.73 L72.33,371.73 L72.35,370.73 L72.36,369.73 L72.38,368.73 L72.40,367.73 L72.42,366.73 L72.44,365.73 L72.45,364.73 L72.47,363.73 L72.49,362.73 L72.51,361.73 L72.53,360.73 L72.54,359.72 L72.56,358.72 L72.58,357.72 L72.60,356.72 L72.62,355.72 L72.64,354.72 L72.66,353.72 L72.68,352.72 L72.70,351.72 L72.72,350.72 L72.74,349.72 L72.76,348.72 L72.78,347.72 L72.80,346.71 L72.82,345.71 L72.84,344.71 L72.86,343.71 L72.88,342.71 L72.90,341.71 L72.92,340.71 L72.94,339.71 L72.96,338.71 L72.98,337.71 L73.00,336.71 L73.02,335.71 L73.04,334.71 L73.07,333.71 L73.09,332.70 L73.11,331.70 L73.13,330.70 L73.15,329.70 L73.18,328.70 L73.20,327.70 L73.22,326.70 L73.24,325.70 L73.27,324.70 L73.29,323.70 L73.31,322.70 L73.33,321.70 L73.36,320.70 L73.38,319.69 L73.40,318.69 L73.43,317.69 L73.45,316.69 L73.47,315.69 L73.50,314.69 L73.52,313.69 L73.55,312.69 L73.57,311.69 L73.59,310.69 L73.62,309.69 L73.64,308.69 L73.67,307.69 L73.69,306.68 L73.72,305.68 L73.74,304.68 L73.77,303.68 L73.79,302.68 L73.82,301.68 L73.84,300.68 L73.87,299.68 L73.89,298.68 L73.92,297.68 L73.95,296.68 L73.97,295.68 L74.00,294.68 L74.03,293.67 L74.05,292.67 L74.08,291.67 L74.10,290.67 L74.13,289.67 L74.16,288.67 L74.19,287.67 L74.21,286.67 L74.24,285.67 L74.27,284.67 L74.30,283.67 L74.32,282.67 L74.35,281.67 L74.38,280.67 L74.41,279.66 L74.44,278.66 L74.46,277.66 L74.49,276.66 L74.52,275.66 L74.55,274.66 L74.58,273.66 L74.61,272.66 L74.64,271.66 L74.67,270.66 L74.70,269.66 L74.73,268.66 L74.76,267.66 L74.79,266.65 L74.82,265.65 L74.85,264.65 L74.88,263.65 L74.91,262.65 L74.94,261.65 L74.97,260.65 L75.00,259.65 L75.03,258.65 L75.06,257.65 L75.09,256.65 L75.12,255.65 L75.15,254.65 L75.19,253.64 L75.22,252.64 L75.25,251.64 L75.28,250.64 L75.31,249.64 L75.35,248.64 L75.38,247.64 L75.41,246.64 L75.44,245.64 L75.48,244.64 L75.51,243.64 L75.54,242.64 L75.58,241.64 L75.61,240.63 L75.64,239.63 L75.68,238.63 L75.71,237.63 L75.74,236.63 L75.78,235.63 L75.81,234.63 L75.85,233.63 L75.88,232.63 L75.92,231.63 L75.95,230.63 L75.99,229.63 L76.02,228.63 L76.06,227.62 L76.09,226.62 L76.13,225.62 L76.16,224.62 L76.20,223.62 L76.23,222.62 L76.27,221.62 L76.31,220.62 L76.34,219.62 L76.38,218.62 L76.42,217.62 L76.45,216.62 L76.49,215.62 L76.53,214.62 L76.56,213.61 L76.60,212.61 L76.64,211.61 L76.68,210.61 L76.72,209.61 L76.75,208.61 L76.79,207.61 L76.83,206.61 L76.87,205.61 L76.91,204.61 L76.95,203.61 L76.98,202.61 L77.02,201.61 L77.06,200.60 L77.10,199.60 L77.14,198.60 L77.18,197.60 L77.22,196.60 L77.26,195.60 L77.30,194.60" fill="none" stroke="#8fb5ea" stroke-width="3" stroke-linejoin="round" stroke-linecap="round"/>
<path d="M71.50,724.00 L71.51,723.00 L71.52,722.00 L71.52,721.00 L71.53,720.00 L71.54,719.00 L71.55,718.00 L71.56,716.99 L71.57,715.99 L71.58,714.99 L71.59,713.99 L71.60,712.99 L71.61,711.99 L71.62,710.99 L71.63,709.99 L71.64,708.99 L71.65,707.99 L71.66,706.99 L71.67,705.99 L71.68,704.99 L71.69,703.98 L71.71,702.98 L71.72,701.98 L71.73,700.98 L71.75,699.98 L71.76,698.98 L71.77,697.98 L71.79,696.98 L71.80,695.98 L71.81,694.98 L71.83,693.98 L71.84,692.98 L71.86,691.98 L71.87,690.98 L71.89,689.97 L71.90,688.97 L71.92,687.97 L71.94,686.97 L71.95,685.97 L71.97,684.97 L71.99,683.97 L72.00,682.97 L72.02,681.97 L72.04,680.97 L72.05,679.97 L72.07,678.97 L72.09,677.97 L72.11,676.96 L72.13,675.96 L72.15,674.96 L72.16,673.96 L72.18,672.96 L72.20,671.96 L72.22,670.96 L72.24,669.96 L72.26,668.96 L72.28,667.96 L72.30,666.96 L72.32,665.96 L72.35,664.96 L72.37,663.95 L72.39,662.95 L72.41,661.95 L72.43,660.95 L72.45,659.95 L72.48,658.95 L72.50,657.95 L72.52,656.95 L72.54,655.95 L72.57,654.95 L72.59,653.95 L72.61,652.95 L72.64,651.95 L72.66,650.94 L72.68,649.94 L72.71,648.94 L72.73,647.94 L72.76,646.94 L72.78,645.94 L72.81,644.94 L72.83,643.94 L72.86,642.94 L72.88,641.94 L72.91,640.94 L72.94,639.94 L72.96,638.94 L72.99,637.93 L73.02,636.93 L73.04,635.93 L73.07,634.93 L73.10,633.93 L73.12,632.93 L73.15,631.93 L73.18,630.93 L73.21,629.93 L73.24,628.93 L73.27,627.93 L73.29,626.93 L73.32,625.93 L73.35,624.93 L73.38,623.92 L73.41,622.92 L73.44,621.92 L73.47,620.92 L73.50,619.92 L73.53,618.92 L73.56,617.92 L73.59,616.92 L73.62,615.92 L73.65,614.92 L73.68,613.92 L73.72,612.92 L73.75,611.92 L73.78,610.91 L73.81,609.91 L73.84,608.91 L73.87,607.91 L73.91,606.91 L73.94,605.91 L73.97,604.91 L74.00,603.91 L74.04,602.91 L74.07,601.91 L74.10,600.91 L74.14,599.91 L74.17,598.91 L74.21,597.90 L74.24,596.90 L74.27,595.90 L74.31,594.90 L74.34,593.90 L74.38,592.90 L74.41,591.90 L74.45,590.90 L74.48,589.90 L74.52,588.90 L74.56,587.90 L74.59,586.90 L74.63,585.90 L74.66,584.89 L74.70,583.89 L74.74,582.89 L74.77,581.89 L74.81,580.89 L74.85,579.89 L74.88,578.89 L74.92,577.89 L74.96,576.89 L75.00,575.89 L75.03,574.89 L75.07,573.89 L75.11,572.89 L75.15,571.89 L75.19,570.88 L75.23,569.88 L75.26,568.88 L75.30,567.88 L75.34,566.88 L75.38,565.88 L75.42,564.88 L75.46,563.88 L75.50,562.88 L75.54,561.88 L75.58,560.88 L75.62,559.88 L75.66,558.88 L75.70,557.87 L75.74,556.87 L75.78,555.87 L75.82,554.87 L75.86,553.87 L75.90,552.87 L75.95,551.87 L75.99,550.87 L76.03,549.87 L76.07,548.87 L76.11,547.87 L76.16,546.87 L76.20,545.87 L76.24,544.86 L76.28,543.86 L76.32,542.86 L76.37,541.86 L76.41,540.86 L76.45,539.86 L76.50,538.86 L76.54,537.86 L76.58,536.86 L76.63,535.86 L76.67,534.86 L76.71,533.86 L76.76,532.86 L76.80,531.85 L76.85,530.85 L76.89,529.85 L76.94,528.85 L76.98,527.85 L77.02,526.85 L77.07,525.85 L77.11,524.85 L77.16,523.85 L77.21,522.85 L77.25,521.85 L77.30,520.85 L77.34,519.85 L77.39,518.84 L77.43,517.84 L77.48,516.84 L77.53,515.84 L77.57,514.84 L77.62,513.84 L77.66,512.84 L77.71,511.84 L77.76,510.84 L77.81,509.84 L77.85,508.84 L77.90,507.84 L77.95,506.84 L77.99,505.84 L78.04,504.83 L78.09,503.83 L78.14,502.83 L78.18,501.83 L78.23,500.83 L78.28,499.83 L78.33,498.83 L78.38,497.83 L78.43,496.83 L78.47,495.83 L78.52,494.83 L78.57,493.83 L78.62,492.83 L78.67,491.82 L78.72,490.82 L78.77,489.82 L78.82,488.82 L78.87,487.82 L78.92,486.82 L78.96,485.82 L79.01,484.82 L79.06,483.82 L79.11,482.82 L79.16,481.82 L79.21,480.82 L79.26,479.82 L79.31,478.81 L79.37,477.81 L79.42,476.81 L79.47,475.81 L79.52,474.81 L79.57,473.81 L79.62,472.81 L79.67,471.81 L79.72,470.81 L79.77,469.81 L79.82,468.81 L79.87,467.81 L79.93,466.81 L79.98,465.80 L80.03,464.80 L80.08,463.80 L80.13,462.80 L80.18,461.80 L80.24,460.80 L80.29,459.80 L80.34,458.80 L80.39,457.80 L80.45,456.80 L80.50,455.80 L80.55,454.80 L80.60,453.80 L80.66,452.80 L80.71,451.79 L80.76,450.79 L80.81,449.79 L80.87,448.79 L80.92,447.79 L80.97,446.79 L81.03,445.79 L81.08,444.79 L81.13,443.79 L81.19,442.79 L81.24,441.79 L81.30,440.79 L81.35,439.79 L81.40,438.78 L81.46,437.78 L81.51,436.78 L81.56,435.78 L81.62,434.78 L81.67,433.78 L81.73,432.78 L81.78,431.78 L81.84,430.78 L81.89,429.78 L81.95,428.78 L82.00,427.78 L82.05,426.78 L82.11,425.77 L82.16,424.77 L82.22,423.77 L82.27,422.77 L82.33,421.77 L82.38,420.77 L82.44,419.77 L82.49,418.77 L82.55,417.77 L82.60,416.77 L82.66,415.77 L82.72,414.77 L82.77,413.77 L82.83,412.76 L82.88,411.76 L82.94,410.76 L82.99,409.76 L83.05,408.76 L83.11,407.76 L83.16,406.76 L83.22,405.76 L83.27,404.76 L83.33,403.76 L83.39,402.76 L83.44,401.76 L83.50,400.76 L83.55,399.76 L83.61,398.75 L83.67,397.75 L83.72,396.75 L83.78,395.75 L83.84,394.75 L83.89,393.75 L83.95,392.75 L84.01,391.75 L84.06,390.75 L84.12,389.75 L84.18,388.75 L84.23,387.75 L84.29,386.75 L84.35,385.74 L84.41,384.74 L84.46,383.74 L84.52,382.74 L84.58,381.74 L84.63,380.74 L84.69,379.74 L84.75,378.74 L84.81,377.74 L84.86,376.74 L84.92,375.74 L84.98,374.74 L85.04,373.74 L85.09,372.73 L85.15,371.73 L85.21,370.73 L85.27,369.73 L85.32,368.73 L85.38,367.73 L85.44,366.73 L85.50,365.73 L85.55,364.73 L85.61,363.73 L85.67,362.73 L85.73,361.73 L85.79,360.73 L85.84,359.72 L85.90,358.72 L85.96,357.72 L86.02,356.72 L86.08,355.72 L86.13,354.72 L86.19,353.72 L86.25,352.72 L86.31,351.72 L86.37,350.72 L86.42,349.72 L86.48,348.72 L86.54,347.72 L86.60,346.71 L86.66,345.71 L86.71,344.71 L86.77,343.71 L86.83,342.71 L86.89,341.71 L86.95,340.71 L87.01,339.71 L87.06,338.71 L87.12,337.71 L87.18,336.71 L87.24,335.71 L87.30,334.71 L87.36,333.71 L87.41,332.70 L87.47,331.70 L87.53,330.70 L87.59,329.70 L87.65,328.70 L87.71,327.70 L87.77,326.70 L87.82,325.70 L87.88,324.70 L87.94,323.70 L88.00,322.70 L88.06,321.70 L88.12,320.70 L88.17,319.69 L88.23,318.69 L88.29,317.69 L88.35,316.69 L88.41,315.69 L88.47,314.69 L88.53,313.69 L88.58,312.69 L88.64,311.69 L88.70,310.69 L88.76,309.69 L88.82,308.69 L88.88,307.69 L88.93,306.68 L88.99,305.68 L89.05,304.68 L89.11,303.68 L89.17,302.68 L89.23,301.68 L89.29,300.68 L89.34,299.68 L89.40,298.68 L89.46,297.68 L89.52,296.68 L89.58,295.68 L89.64,294.68 L89.69,293.67 L89.75,292.67 L89.81,291.67 L89.87,290.67 L89.93,289.67 L89.99,288.67 L90.04,287.67 L90.10,286.67 L90.16,285.67 L90.22,284.67 L90.28,283.67 L90.33,282.67 L90.39,281.67 L90.45,280.67 L90.51,279.66 L90.57,278.66 L90.62,277.66 L90.68,276.66 L90.74,275.66 L90.80,274.66 L90.86,273.66 L90.91,272.66 L90.97,271.66 L91.03,270.66 L91.09,269.66 L91.15,268.66 L91.20,267.66 L91.26,266.65 L91.32,265.65 L91.38,264.65 L91.43,263.65 L91.49,262.65 L91.55,261.65 L91.61,260.65 L91.66,259.65 L91.72,258.65 L91.78,257.65 L91.84,256.65 L91.89,255.65 L91.95,254.65 L92.01,253.64 L92.07,252.64 L92.12,251.64 L92.18,250.64 L92.24,249.64 L92.30,248.64 L92.35,247.64 L92.41,246.64 L92.47,245.64 L92.52,244.64 L92.58,243.64 L92.64,242.64 L92.69,241.64 L92.75,240.63 L92.81,239.63 L92.86,238.63 L92.92,237.63 L92.98,236.63 L93.03,235.63 L93.09,234.63 L93.15,233.63 L93.20,232.63 L93.26,231.63 L93.32,230.63 L93.37,229.63 L93.43,228.63 L93.48,227.62 L93.54,226.62 L93.60,225.62 L93.65,224.62 L93.71,223.62 L93.76,222.62 L93.82,221.62 L93.87,220.62 L93.93,219.62 L93.99,218.62 L94.04,217.62 L94.10,216.62 L94.15,215.62 L94.21,214.62 L94.26,213.61 L94.32,212.61 L94.37,211.61 L94.43,210.61 L94.48,209.61 L94.54,208.61 L94.59,207.61 L94.65,206.61 L94.70,205.61 L94.76,204.61 L94.81,203.61 L94.87,202.61 L94.92,201.61 L94.98,200.60 L95.03,199.60 L95.08,198.60 L95.14,197.60 L95.19,196.60 L95.25,195.60 L95.30,194.60" fill="none" stroke="#c2c2c2" stroke-width="3" stroke-linejoin="round" stroke-linecap="round"/>
<path d="M71.59,724.60 L72.09,723.02 L72.65,721.49 L73.26,720.02 L73.92,718.61 L74.64,717.25 L75.41,715.94 L76.23,714.68 L77.09,713.46 L77.99,712.29 L78.94,711.16 L79.93,710.07 L80.96,709.02 L82.02,708.01 L83.11,707.03 L84.24,706.08 L85.39,705.17 L86.58,704.28 L87.78,703.42 L89.02,702.59 L90.27,701.78 L91.54,700.99 L92.83,700.22 L94.13,699.47 L95.44,698.73 L96.77,698.00 L98.10,697.29 L99.45,696.58 L100.79,695.89 L102.14,695.20 L103.49,694.51 L104.84,693.83 L106.19,693.15 L107.55,692.48 L108.90,691.82 L110.26,691.16 L111.62,690.50 L112.98,689.85 L114.35,689.20 L115.71,688.56 L117.08,687.92 L118.45,687.29 L119.82,686.66 L121.19,686.04 L122.56,685.42 L123.94,684.81 L125.32,684.20 L126.70,683.59 L128.08,682.99 L129.46,682.39 L130.84,681.80 L132.23,681.21 L133.61,680.62 L135.00,680.04 L136.39,679.47 L137.78,678.89 L139.17,678.32 L140.57,677.76 L141.96,677.19 L143.36,676.64 L144.76,676.08 L146.16,675.53 L147.56,674.98 L148.96,674.44 L150.36,673.90 L151.77,673.36 L153.17,672.83 L154.58,672.30 L155.99,671.77 L157.40,671.24 L158.81,670.72 L160.22,670.20 L161.64,669.69 L163.05,669.18 L164.47,668.67 L165.88,668.16 L167.30,667.66 L168.72,667.16 L170.14,666.66 L171.56,666.16 L172.99,665.67 L174.41,665.18 L175.84,664.69 L177.26,664.21 L178.69,663.72 L180.12,663.24 L181.55,662.77 L182.98,662.29 L184.41,661.82 L185.84,661.34 L187.27,660.87 L188.70,660.41 L190.14,659.94 L191.57,659.48 L193.01,659.02 L194.45,658.56 L195.89,658.10 L197.32,657.64 L198.76,657.19 L200.20,656.73 L201.64,656.28 L203.09,655.83 L204.53,655.38 L205.97,654.94 L207.42,654.49 L208.86,654.05 L210.31,653.60 L211.75,653.16 L213.20,652.72 L214.65,652.28 L216.09,651.84 L217.54,651.41 L218.99,650.97 L220.44,650.54 L221.89,650.10 L223.34,649.67 L224.79,649.23 L226.24,648.80 L227.70,648.37 L229.15,647.94 L230.60,647.51 L232.06,647.08 L233.51,646.65 L234.96,646.22 L236.42,645.79 L237.87,645.36 L239.33,644.93 L240.78,644.51 L242.24,644.08 L243.70,643.65 L245.15,643.22 L246.61,642.80 L248.07,642.37 L249.53,641.94 L250.98,641.51 L252.44,641.08 L253.90,640.66 L255.36,640.23 L256.82,639.80 L258.27,639.37 L259.73,638.94 L261.19,638.51 L262.65,638.08 L264.11,637.65 L265.57,637.21 L267.03,636.78 L268.49,636.35 L269.95,635.91 L271.41,635.48 L272.87,635.04 L274.32,634.60 L275.78,634.17 L277.24,633.73 L278.70,633.29 L280.16,632.85 L281.62,632.41 L283.08,631.97 L284.54,631.53 L286.00,631.08 L287.46,630.64 L288.92,630.19 L290.38,629.75 L291.83,629.30 L293.29,628.85 L294.75,628.41 L296.21,627.96 L297.67,627.51 L299.13,627.06 L300.59,626.60 L302.04,626.15 L303.50,625.70 L304.96,625.24 L306.42,624.79 L307.88,624.33 L309.33,623.87 L310.79,623.41 L312.25,622.96 L313.70,622.49 L315.16,622.03 L316.62,621.57 L318.07,621.11 L319.53,620.64 L320.98,620.18 L322.44,619.71 L323.89,619.24 L325.35,618.78 L326.80,618.31 L328.26,617.84 L329.71,617.36 L331.17,616.89 L332.62,616.42 L334.07,615.94 L335.53,615.47 L336.98,614.99 L338.43,614.51 L339.88,614.03 L341.34,613.55 L342.79,613.07 L344.24,612.59 L345.69,612.10 L347.14,611.62 L348.59,611.13 L350.04,610.64 L351.49,610.15 L352.94,609.66 L354.38,609.17 L355.83,608.68 L357.28,608.19 L358.73,607.69 L360.17,607.20 L361.62,606.70 L363.06,606.20 L364.51,605.70 L365.95,605.20 L367.40,604.70 L368.84,604.19 L370.28,603.69 L371.73,603.18 L373.17,602.68 L374.61,602.17 L376.05,601.66 L377.49,601.15 L378.93,600.63 L380.37,600.12 L381.81,599.60 L383.25,599.09 L384.69,598.57 L386.12,598.05 L387.56,597.53 L389.00,597.01 L390.43,596.48 L391.87,595.96 L393.30,595.43 L394.74,594.90 L396.17,594.37 L397.60,593.84 L399.03,593.31 L400.46,592.77 L401.89,592.24 L403.32,591.70 L404.75,591.16 L406.18,590.62 L407.61,590.08 L409.04,589.54 L410.46,589.00 L411.89,588.45 L413.31,587.90 L414.74,587.35 L416.16,586.80 L417.58,586.25 L419.00,585.70 L420.42,585.14 L421.84,584.59 L423.26,584.03 L424.68,583.47 L426.10,582.91 L427.52,582.34 L428.93,581.78 L430.35,581.21 L431.76,580.64 L433.18,580.07 L434.59,579.50 L436.00,578.93 L437.41,578.36 L438.82,577.78 L440.23,577.20 L441.64,576.62 L443.05,576.04 L444.46,575.46 L445.86,574.87 L447.27,574.29 L448.67,573.70 L450.07,573.11 L451.48,572.52 L452.88,571.92 L454.28,571.33 L455.68,570.73 L457.08,570.13 L458.47,569.53 L459.87,568.93 L461.26,568.32 L462.66,567.72 L464.05,567.11 L465.44,566.50 L466.84,565.89 L468.23,565.28 L469.62,564.66 L471.00,564.04 L472.39,563.42 L473.78,562.80 L475.16,562.18 L476.55,561.56 L477.93,560.93 L479.31,560.30 L480.69,559.67 L482.07,559.04 L483.45,558.40 L484.83,557.77 L486.20,557.13 L487.58,556.49 L488.95,555.85 L490.33,555.20 L491.70,554.56 L493.07,553.91 L494.44,553.26 L495.81,552.61 L497.17,551.95 L498.54,551.30 L499.90,550.64 L501.27,549.98 L502.63,549.32 L503.99,548.65 L505.35,547.99 L506.71,547.32 L508.06,546.65 L509.42,545.98 L510.78,545.30 L512.13,544.62 L513.48,543.95 L514.83,543.26 L516.18,542.58 L517.53,541.90 L518.88,541.21 L520.22,540.52 L521.57,539.83 L522.91,539.13 L524.25,538.44 L525.59,537.74 L526.93,537.04 L528.27,536.34 L529.60,535.63 L530.94,534.93 L532.27,534.22 L533.60,533.51 L534.93,532.79 L536.26,532.08 L537.59,531.36 L538.92,530.64 L540.24,529.92 L541.56,529.19 L542.89,528.46 L544.21,527.73 L545.53,527.00 L546.84,526.27 L548.16,525.53 L549.47,524.79 L550.79,524.05 L552.10,523.31 L553.41,522.56 L554.72,521.81 L556.02,521.06 L557.33,520.31 L558.63,519.56 L559.93,518.80 L561.24,518.04 L562.53,517.28 L563.83,516.51 L565.13,515.74 L566.42,514.97 L567.72,514.20 L569.01,513.43 L570.30,512.65 L571.58,511.87 L572.87,511.09 L574.15,510.30 L575.44,509.52 L576.72,508.73 L578.00,507.94 L579.28,507.14 L580.55,506.34 L581.83,505.54 L583.10,504.74 L584.37,503.94 L585.64,503.13 L586.91,502.32 L588.18,501.51 L589.44,500.69 L590.70,499.88 L591.96,499.06 L593.22,498.23 L594.48,497.41 L595.74,496.58 L596.99,495.75 L598.24,494.92 L599.49,494.08 L600.74,493.24 L601.99,492.40 L603.23,491.56 L604.48,490.71 L605.72,489.86 L606.96,489.01 L608.19,488.16 L609.43,487.30 L610.66,486.44 L611.89,485.58 L613.12,484.71 L614.35,483.84 L615.58,482.97 L616.80,482.10 L618.03,481.22 L619.25,480.35 L620.47,479.46 L621.68,478.58 L622.90,477.69 L624.11,476.80 L625.32,475.91 L626.53,475.01 L627.74,474.11 L628.94,473.21 L630.14,472.31 L631.34,471.40 L632.54,470.49 L633.74,469.58 L634.94,468.66 L636.13,467.74 L637.32,466.82 L638.51,465.90 L639.69,464.97 L640.88,464.04 L642.06,463.11 L643.24,462.17 L644.42,461.23 L645.60,460.29 L646.77,459.35 L647.94,458.40 L649.11,457.45 L650.28,456.49 L651.45,455.54 L652.61,454.58 L653.77,453.61 L654.93,452.65 L656.09,451.68 L657.24,450.71 L658.40,449.73 L659.55,448.76 L660.70,447.78 L661.84,446.79 L662.99,445.80 L664.13,444.81 L665.27,443.82 L666.41,442.83 L667.54,441.83 L668.68,440.82 L669.81,439.82 L670.93,438.81 L672.06,437.80 L673.18,436.78 L674.31,435.76 L675.43,434.74 L676.54,433.72 L677.66,432.69 L678.77,431.66 L679.88,430.63 L680.99,429.59 L682.09,428.55 L683.20,427.51 L684.30,426.46 L685.40,425.41 L686.49,424.36 L687.59,423.30 L688.68,422.24 L689.77,421.18 L690.85,420.11 L691.94,419.04 L693.02,417.97 L694.10,416.89 L695.18,415.81 L696.25,414.73 L697.32,413.65 L698.39,412.56 L699.46,411.46 L700.52,410.37 L701.59,409.27 L702.65,408.17 L703.70,407.06 L704.76,405.95 L705.81,404.84 L706.86,403.72 L707.91,402.60 L708.95,401.48 L709.99,400.35 L711.03,399.22 L712.07,398.09 L713.10,396.95 L714.14,395.81 L715.17,394.67 L716.19,393.52 L717.22,392.37 L718.24,391.22 L719.26,390.06 L720.27,388.90 L721.29,387.74 L722.30,386.57 L723.31,385.40 L724.31,384.22 L725.32,383.05 L726.32,381.86 L727.31,380.68 L728.31,379.49 L729.30,378.30 L730.16,376.76 L731.02,375.22 L731.88,373.67 L732.74,372.13 L733.61,370.59 L734.47,369.05 L735.33,367.51 L736.20,365.97 L737.06,364.43 L737.93,362.89 L738.79,361.35 L739.66,359.81 L740.52,358.27 L741.39,356.73 L742.25,355.19 L743.12,353.66 L743.99,352.12 L744.85,350.58 L745.72,349.04 L746.59,347.50 L747.46,345.96 L748.32,344.43 L749.19,342.89 L750.06,341.35 L750.93,339.81 L751.80,338.28 L752.67,336.74 L753.53,335.20 L754.40,333.66 L755.27,332.13 L756.14,330.59 L757.01,329.05 L757.88,327.52 L758.75,325.98 L759.62,324.44 L760.48,322.90 L761.35,321.37 L762.22,319.83 L763.09,318.29 L763.96,316.75 L764.83,315.22 L765.70,313.68 L766.56,312.14 L767.43,310.60 L768.30,309.07 L769.17,307.53 L770.03,305.99 L770.90,304.45 L771.77,302.91 L772.64,301.37 L773.50,299.84 L774.37,298.30 L775.23,296.76 L776.10,295.22 L776.96,293.68 L777.83,292.14 L778.69,290.60 L779.56,289.06 L780.42,287.52 L781.28,285.98 L782.14,284.44 L783.01,282.90 L783.87,281.36 L784.73,279.81 L785.59,278.27 L786.45,276.73 L787.31,275.19 L788.17,273.64 L789.02,272.10 L789.88,270.56 L790.74,269.01 L791.59,267.47 L792.45,265.92 L793.31,264.38 L794.16,262.83 L795.01,261.29 L795.87,259.74 L796.72,258.20 L797.57,256.65 L798.42,255.10 L799.27,253.55 L800.12,252.00 L800.97,250.45 L801.81,248.91 L802.66,247.36 L803.50,245.81 L804.35,244.25 L805.19,242.70 L806.04,241.15 L806.88,239.60 L807.72,238.05 L808.56,236.49 L809.40,234.94 L810.23,233.38 L811.07,231.83 L811.91,230.27 L812.74,228.72 L813.58,227.16 L814.41,225.60 L815.24,224.04 L816.07,222.48 L816.90,220.92 L817.73,219.36 L818.55,217.80 L819.38,216.24 L820.20,214.68 L821.03,213.11 L821.85,211.55 L822.67,209.99 L823.49,208.42 L824.31,206.86 L825.12,205.29 L825.94,203.72 L826.75,202.15 L827.56,200.58 L828.37,199.01 L829.18,197.44 L829.99,195.87 L830.80,194.30" fill="none" stroke="#121c3a" stroke-width="3.1" stroke-linejoin="round" stroke-linecap="round"/>
<line x1="69.95" y1="724.8" x2="1048.8" y2="724.8" stroke="#121c33" stroke-width="1.9"/>
<line x1="1048" y1="104.4" x2="1048" y2="725.6999999999999" stroke="#121c33" stroke-width="1.9"/>
<line x1="70.85" y1="724.8" x2="70.85" y2="730.6" stroke="#121c33" stroke-width="1.9"/>
<line x1="168.55" y1="724.8" x2="168.55" y2="730.6" stroke="#121c33" stroke-width="1.9"/>
<line x1="266.25" y1="724.8" x2="266.25" y2="730.6" stroke="#121c33" stroke-width="1.9"/>
<line x1="363.95" y1="724.8" x2="363.95" y2="730.6" stroke="#121c33" stroke-width="1.9"/>
<line x1="461.65" y1="724.8" x2="461.65" y2="730.6" stroke="#121c33" stroke-width="1.9"/>
<line x1="559.35" y1="724.8" x2="559.35" y2="730.6" stroke="#121c33" stroke-width="1.9"/>
<line x1="657.05" y1="724.8" x2="657.05" y2="730.6" stroke="#121c33" stroke-width="1.9"/>
<line x1="754.75" y1="724.8" x2="754.75" y2="730.6" stroke="#121c33" stroke-width="1.9"/>
<line x1="852.45" y1="724.8" x2="852.45" y2="730.6" stroke="#121c33" stroke-width="1.9"/>
<line x1="950.15" y1="724.8" x2="950.15" y2="730.6" stroke="#121c33" stroke-width="1.9"/>
<line x1="1047.85" y1="724.8" x2="1047.85" y2="730.6" stroke="#121c33" stroke-width="1.9"/>
<line x1="1047.1" y1="724.80" x2="1053.6" y2="724.80" stroke="#121c33" stroke-width="1.9"/>
<line x1="1047.1" y1="636.26" x2="1053.6" y2="636.26" stroke="#121c33" stroke-width="1.9"/>
<line x1="1047.1" y1="547.71" x2="1053.6" y2="547.71" stroke="#121c33" stroke-width="1.9"/>
<line x1="1047.1" y1="459.17" x2="1053.6" y2="459.17" stroke="#121c33" stroke-width="1.9"/>
<line x1="1047.1" y1="370.63" x2="1053.6" y2="370.63" stroke="#121c33" stroke-width="1.9"/>
<line x1="1047.1" y1="282.09" x2="1053.6" y2="282.09" stroke="#121c33" stroke-width="1.9"/>
<line x1="1047.1" y1="193.54" x2="1053.6" y2="193.54" stroke="#121c33" stroke-width="1.9"/>
<line x1="1047.1" y1="105.00" x2="1053.6" y2="105.00" stroke="#121c33" stroke-width="1.9"/>
<path d="M67.3,745.9 L71.2,743.9 L71.2,757.6" fill="none" stroke="#464b57" stroke-width="1.7" stroke-linejoin="miter"/>
<line x1="371.3" y1="645.6" x2="866" y2="645.6" stroke="#17233f" stroke-width="1.5"/>
<polygon points="865.3,638.8 880.3,645.7 865.3,652.8" fill="#0f2260"/>
</svg></body></html>
